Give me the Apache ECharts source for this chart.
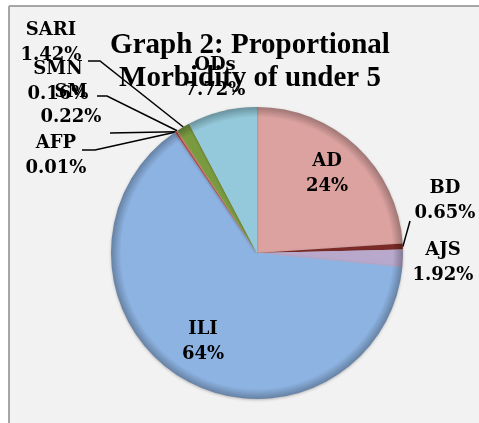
<!DOCTYPE html>
<html><head><meta charset="utf-8">
<script src="https://cdn.jsdelivr.net/npm/echarts@6/dist/echarts.min.js"></script>
<style>html,body{margin:0;padding:0;background:#fff;}#c{width:479px;height:423px;}</style>
</head><body><div id="c"></div>
<script>
const categories = ['AD','BD','AJS','ILI','AFP','SM','SMN','SARI','ODs'];
const values = [24, 0.65, 1.92, 64, 0.01, 0.22, 0.16, 1.42, 7.72];
const valueLabels = ['24%','0.65%','1.92%','64%','0.01%','0.22%','0.16%','1.42%','7.72%'];
const colors = ['#dba2a0','#7a2a27','#b7a8cc','#8db3e2','#4f81bd','#c0504d','#d38d5f','#7a9a40','#93c9da'];

const cx = 257, cy = 253, R = 146;
// label placement (text centres) and leader-line bends
const labelPos = {
  AD:  {x:327, y:174},
  BD:  {x:445, y:201, line:[[410,221]]},
  AJS: {x:443, y:263},
  ILI: {x:203, y:342},
  AFP: {x:56,  y:156, line:[[95,150],[82,150]]},
  SM:  {x:71,  y:105, line:[[110,133]]},
  SMN: {x:58,  y:82,  line:[[107,96],[97,96]]},
  SARI:{x:51,  y:43,  line:[[100,61],[88,61]]},
  ODs: {x:215, y:78}
};

function darker(c, k){
  const a = echarts.color.parse(c);
  return 'rgb(' + [0,1,2].map(i=>Math.round(a[i]*k)).join(',') + ')';
}
function shade(c){
  return {type:'radial', x:cx, y:cy, r:R, global:true,
    colorStops:[{offset:0,color:c},{offset:0.93,color:c},{offset:1,color:darker(c,0.72)}]};
}

const data = categories.map((n,i)=>({
  name:n, value:values[i],
  itemStyle:{color:shade(colors[i])},
  label:{formatter:n+'\n'+valueLabels[i]},
  labelLine:{show: !!labelPos[n].line}
}));

const chart = echarts.init(document.getElementById('c'), null, {renderer:'canvas'});
chart.setOption({
  animation:false,
  backgroundColor:'#ffffff',
  graphic:[
    {type:'rect', z:-10, shape:{x:9,y:7,width:470,height:416}, style:{fill:'#f2f2f2'}},
    {type:'line', z:-9, shape:{x1:9,y1:6,x2:479,y2:6}, style:{stroke:'#a6a6a6',lineWidth:2}},
    {type:'line', z:-9, shape:{x1:9,y1:6,x2:9,y2:423}, style:{stroke:'#a6a6a6',lineWidth:2}}
  ],
  title:{
    text:'Graph 2: Proportional\nMorbidity of under 5',
    left:245, top:24, textAlign:'center',
    textStyle:{fontFamily:'Liberation Serif',fontWeight:'bold',fontSize:29,lineHeight:33,color:'#000'}
  },
  series:[{
    type:'pie',
    center:[cx,cy], radius:R,
    startAngle:90, clockwise:true,
    avoidLabelOverlap:false,
    minShowLabelAngle:0,
    itemStyle:{borderWidth:0, shadowBlur:3, shadowColor:'rgba(0,0,0,0.25)', shadowOffsetY:1},
    label:{show:true, position:'outside', color:'#000', fontFamily:'DejaVu Serif', fontWeight:'bold', fontSize:18, lineHeight:25, align:'center'},
    labelLine:{show:true, length:5, length2:5, lineStyle:{color:'#000', width:1.5}},
    labelLayout:function(p){
      const n = categories[p.dataIndex];
      const lp = labelPos[n];
      const out = {x:lp.x, y:lp.y, align:'center', verticalAlign:'middle'};
      if (lp.line && p.labelLinePoints){
        out.labelLinePoints = [p.labelLinePoints[0]].concat(lp.line);
      }
      return out;
    },
    data:data
  }]
});
</script></body></html>
